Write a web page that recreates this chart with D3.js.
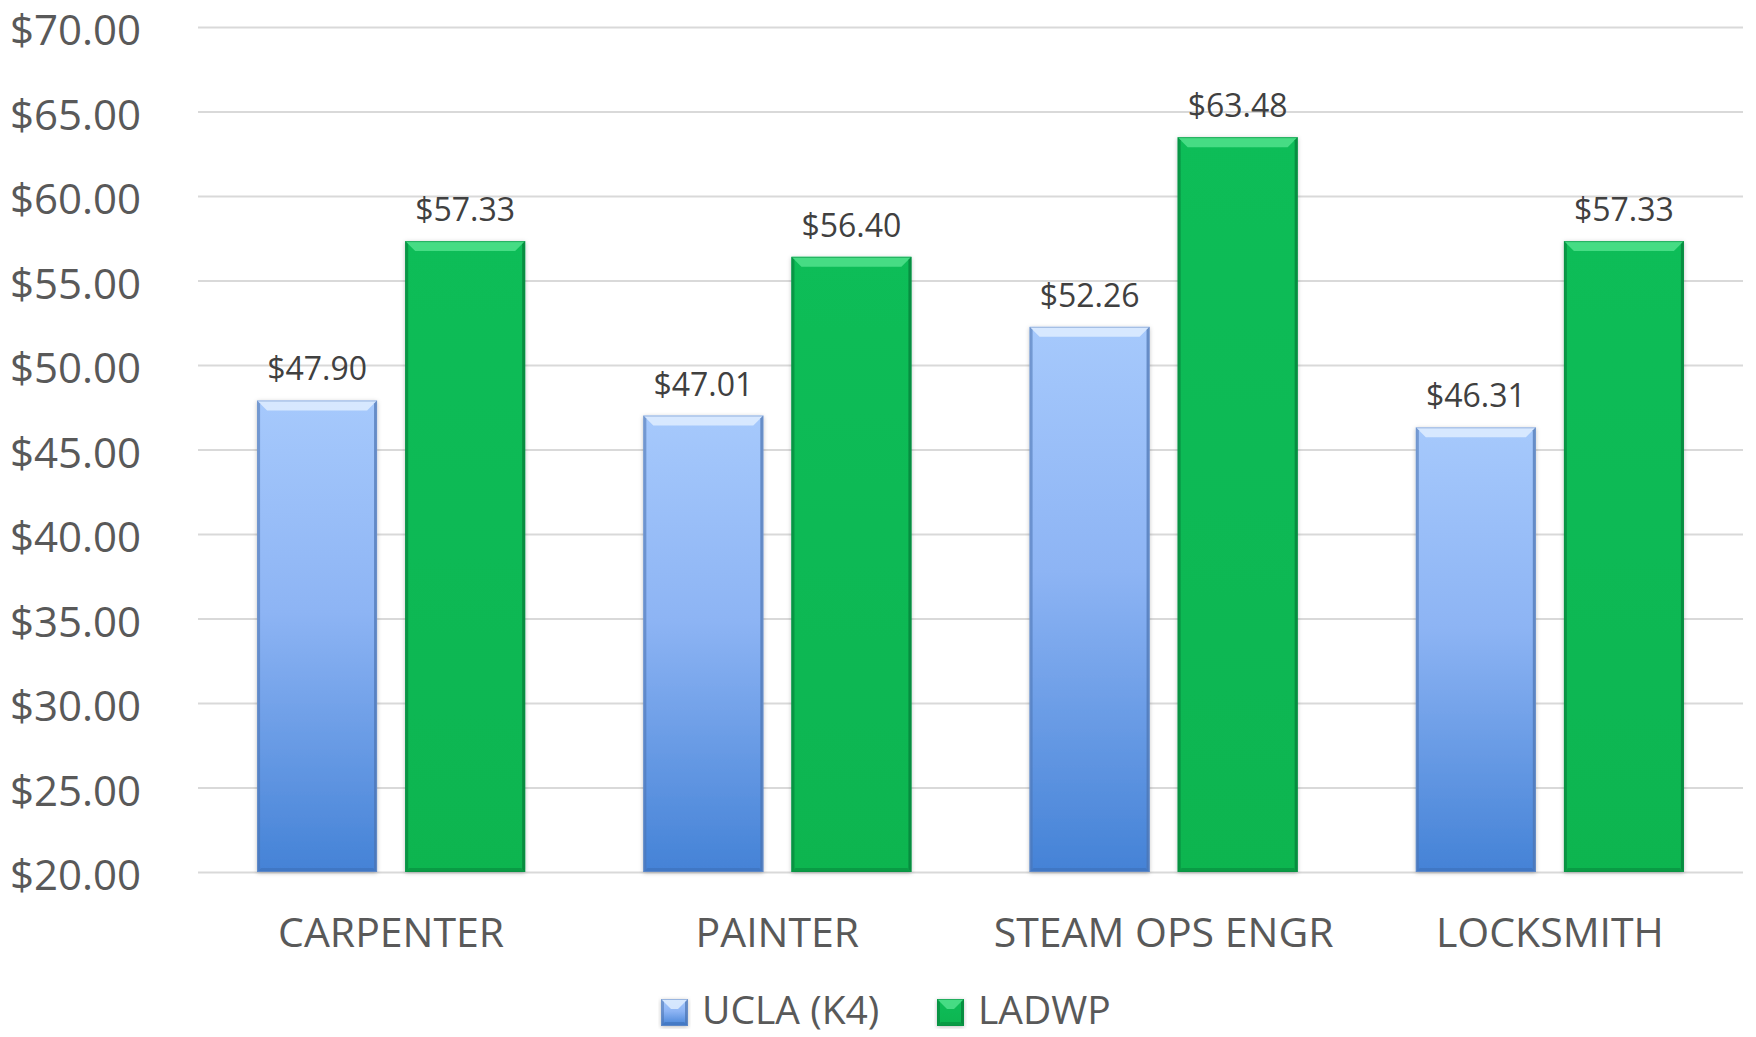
<!DOCTYPE html>
<html>
<head>
<meta charset="utf-8">
<script src="https://cdn.jsdelivr.net/npm/d3@7"></script>
<style>
  html, body { margin: 0; padding: 0; background: #fff; }
  svg { display: block; font-family: "Open Sans", "Noto Sans", sans-serif; }
</style>
</head>
<body>
<div id="chart"></div>
<script>
  const categories = ["CARPENTER", "PAINTER", "STEAM OPS ENGR", "LOCKSMITH"];
  const seriesNames = ["UCLA (K4)", "LADWP"];
  const uclaValues = [47.90, 47.01, 52.26, 46.31];
  const ladwpValues = [57.33, 56.40, 63.48, 57.33];
  const yTicks = [20, 25, 30, 35, 40, 45, 50, 55, 60, 65, 70];

  const width = 1756;
  const height = 1037;
  const margin = { top: 27, right: 13, bottom: 165, left: 198 };
  const textColor = "#595959";

  const svg = d3.select("#chart").append("svg").attr("width", width).attr("height", height);
  const defs = svg.append("defs");

  const blueGrad = defs.append("linearGradient").attr("id", "blueGrad").attr("x1", 0).attr("x2", 0).attr("y1", 0).attr("y2", 1);
  blueGrad.append("stop").attr("offset", "0%").attr("stop-color", "#a6c9fc");
  blueGrad.append("stop").attr("offset", "45%").attr("stop-color", "#8db4f4");
  blueGrad.append("stop").attr("offset", "100%").attr("stop-color", "#4482d6");

  const greenGrad = defs.append("linearGradient").attr("id", "greenGrad").attr("x1", 0).attr("x2", 0).attr("y1", 0).attr("y2", 1);
  greenGrad.append("stop").attr("offset", "0%").attr("stop-color", "#0abd58");
  greenGrad.append("stop").attr("offset", "100%").attr("stop-color", "#07b550");

  const shadow = defs.append("filter").attr("id", "shadow").attr("x", "-10%").attr("y", "-10%").attr("width", "120%").attr("height", "120%");
  shadow.append("feDropShadow").attr("dx", 0).attr("dy", 1).attr("stdDeviation", 2).attr("flood-color", "#000").attr("flood-opacity", 0.25);

  const y = d3.scaleLinear().domain([20, 70]).range([height - margin.bottom, margin.top]);
  const x0 = d3.scaleBand().domain(categories).range([margin.left, width - margin.right]).paddingInner(0.306).paddingOuter(0.153);
  const x1 = d3.scaleBand().domain(seriesNames).range([0, x0.bandwidth()]).paddingInner(0.19);

  // gridlines + y labels
  svg.append("g")
    .attr("transform", "translate(" + margin.left + ",0)")
    .call(d3.axisLeft(y).tickValues(yTicks).tickSize(-(width - margin.left - margin.right)).tickPadding(57).tickFormat(function (d) { return "$" + d3.format(".2f")(d); }))
    .call(function (g) {
      g.select(".domain").remove();
      g.selectAll("line").attr("stroke", "#d9d9d9").attr("stroke-width", 2);
      g.selectAll("text").attr("fill", textColor).attr("font-size", 42).attr("font-family", "Open Sans").attr("dy", "0.42em");
    });

  // x labels
  svg.append("g")
    .attr("transform", "translate(0," + (height - margin.bottom) + ")")
    .call(d3.axisBottom(x0).tickSize(0).tickPadding(46))
    .call(function (g) {
      g.select(".domain").remove();
      g.selectAll("text").attr("fill", textColor).attr("font-size", 41).attr("font-family", "Open Sans");
    });

  const rows = categories.map(function (c, i) {
    return { cat: c, values: [{ key: seriesNames[0], v: uclaValues[i] }, { key: seriesNames[1], v: ladwpValues[i] }] };
  });

  const styles = {
    "UCLA (K4)": { fill: "url(#blueGrad)", top: "#e4f0ff", side: "#4b73b0", edge: "#6f93c9", bottom: "#3d6fb8" },
    "LADWP": { fill: "url(#greenGrad)", top: "#55e390", side: "#067a38", edge: "#0a8f44", bottom: "#068a3e" }
  };

  function drawBevelBar(g, bx, by, bw, bh, st) {
    const b = Math.min(10, bh / 2);
    g.append("rect").attr("x", bx).attr("y", by).attr("width", bw).attr("height", bh).attr("fill", st.fill).attr("filter", "url(#shadow)");
    // top bevel
    g.append("path").attr("d", "M" + bx + "," + by + "L" + (bx + bw) + "," + by + "L" + (bx + bw - b) + "," + (by + b) + "L" + (bx + b) + "," + (by + b) + "Z")
      .attr("fill", st.top).attr("opacity", 0.8);
    // side bevels
    g.append("path").attr("d", "M" + bx + "," + by + "L" + (bx + 3) + "," + (by + 3) + "L" + (bx + 3) + "," + (by + bh - 3) + "L" + bx + "," + (by + bh) + "Z")
      .attr("fill", st.side).attr("opacity", 0.55);
    g.append("path").attr("d", "M" + (bx + bw) + "," + by + "L" + (bx + bw - 3) + "," + (by + 3) + "L" + (bx + bw - 3) + "," + (by + bh - 3) + "L" + (bx + bw) + "," + (by + bh) + "Z")
      .attr("fill", st.side).attr("opacity", 0.7);
    g.append("path").attr("d", "M" + bx + "," + (by + bh) + "L" + (bx + 4) + "," + (by + bh - 4) + "L" + (bx + bw - 4) + "," + (by + bh - 4) + "L" + (bx + bw) + "," + (by + bh) + "Z")
      .attr("fill", st.bottom).attr("opacity", 0.6);
    g.append("rect").attr("x", bx + 0.5).attr("y", by + 0.5).attr("width", bw - 1).attr("height", bh - 1).attr("fill", "none").attr("stroke", st.edge).attr("stroke-width", 1).attr("opacity", 0.6);
  }

  const groups = svg.append("g").selectAll("g")
    .data(rows)
    .enter()
    .append("g")
    .attr("transform", function (d) { return "translate(" + x0(d.cat) + ",0)"; });

  groups.each(function (d) {
    const g = d3.select(this);
    d.values.forEach(function (s) {
      const bx = x1(s.key);
      const by = y(s.v);
      drawBevelBar(g, bx, by, x1.bandwidth(), y(20) - by, styles[s.key]);
      g.append("text")
        .attr("x", bx + x1.bandwidth() / 2)
        .attr("y", by - 20)
        .attr("text-anchor", "middle")
        .attr("fill", "#404040")
        .attr("font-size", 32)
        .text("$" + d3.format(".2f")(s.v));
    });
  });

  // legend
  const legendItems = [
    { name: seriesNames[0], x: 661, st: styles["UCLA (K4)"] },
    { name: seriesNames[1], x: 937, st: styles["LADWP"] }
  ];
  const legend = svg.append("g");
  legendItems.forEach(function (it) {
    const lg = legend.append("g");
    drawBevelBar(lg, it.x, 999, 27, 27, it.st);
    lg.append("text").attr("x", it.x + 41).attr("y", 1024).attr("fill", textColor).attr("font-size", 39).text(it.name);
  });
</script>
</body>
</html>
